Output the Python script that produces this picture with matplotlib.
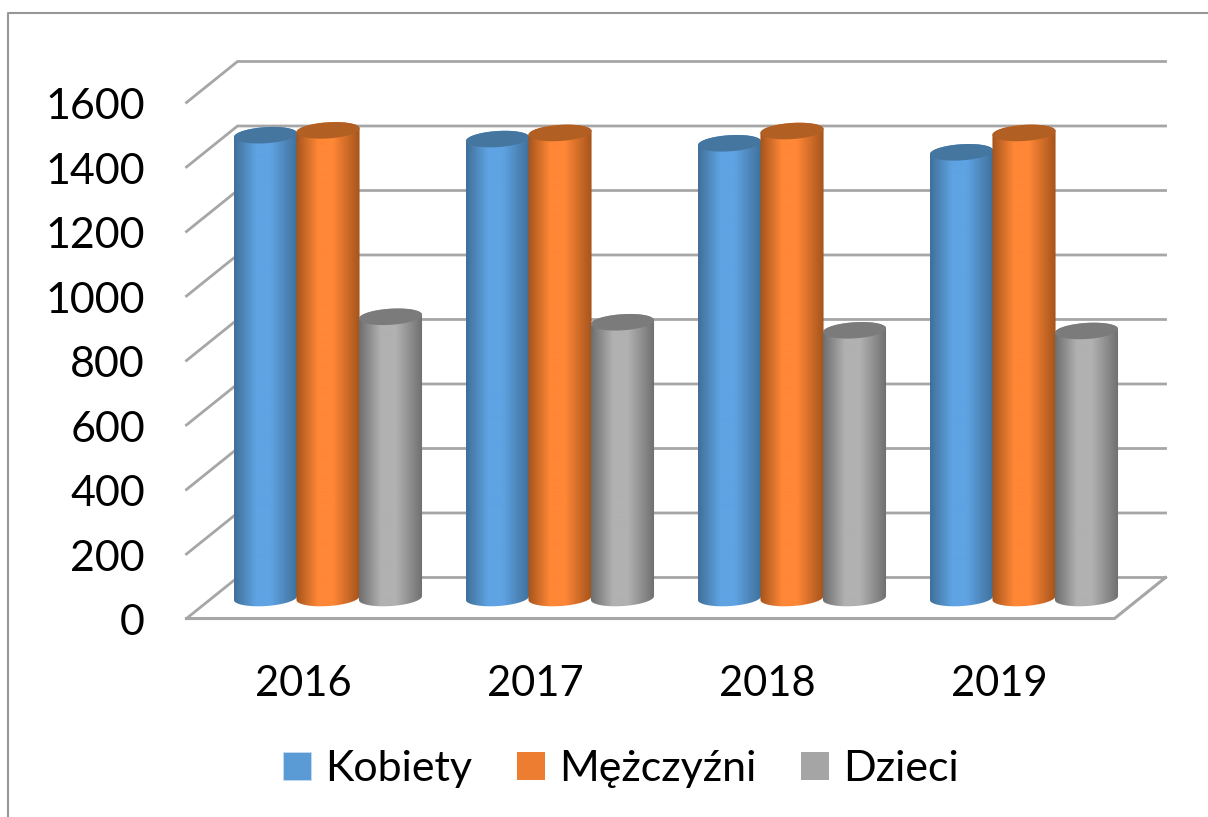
import matplotlib
matplotlib.use('Agg')
from matplotlib import pyplot as plt
from matplotlib.patches import Patch, PathPatch
from matplotlib.path import Path
from matplotlib.colors import LinearSegmentedColormap
import numpy as np

plt.rcParams['font.family'] = ['Lato', 'DejaVu Sans']

years = ['2016', '2017', '2018', '2019']
names = ['Kobiety', 'Mężczyźni', 'Dzieci']
kobiety = [1435, 1423, 1410, 1382]
mezczyzni = [1450, 1442, 1448, 1442]
dzieci = [872, 855, 830, 828]
series = [kobiety, mezczyzni, dzieci]
yticks = [0, 200, 400, 600, 800, 1000, 1200, 1400, 1600]

legend_colors = ['#5b9bd5', '#ed7d31', '#a5a5a5']
edge_colors = ['#3f6f99', '#a4541c', '#6e6e6e']
mid_colors = ['#5fa3e3', '#ff8736', '#b1b1b1']
top_colors = ['#44769f', '#b15f22', '#7b7b7b']
grid_color = '#a6a6a6'

# one category = 232 px, one value unit = 0.3225 px
fig = plt.figure(figsize=(12.08, 8.17), dpi=100)
ax = fig.add_axes([0, 0, 1, 1])
ax.axis('off')

# half of the depth of the floor, data units
dx = 0.11
dy = 63.6
left, right = -0.5, 3.5

# frame of the picture
fx = lambda p: (p - 328) / 232
fy = lambda p: (598 - p) / 0.3225
ax.plot([fx(8), fx(8), fx(1208)], [fy(817), fy(13), fy(13)], color='#979797', lw=1.5, zorder=1)

for v in yticks:
    ax.plot([left - dx, left + dx, right + dx], [v - dy, v + dy, v + dy],
            color=grid_color, lw=2, zorder=1, solid_joinstyle='miter')
ax.plot([left - dx, right - dx, right + dx], [-dy, -dy, dy], color=grid_color, lw=2.2, zorder=1)

bar_w = 0.272
t = np.linspace(0, 2 * np.pi, 120)
ry = 25
shear = 6


def cylinder(cx, value, k, z):
    half = bar_w / 2
    # outline: lower half of the base, then up the side, upper half at the top
    tb = np.linspace(np.pi, 2 * np.pi, 60)
    xs = cx + half * np.cos(tb)
    ys = ry * np.sin(tb) + shear * np.cos(tb)
    ts = np.linspace(0, np.pi, 60)
    xt = cx + half * np.cos(ts)
    yt = value + ry * np.sin(ts) + shear * np.cos(ts)
    pts = np.column_stack([np.r_[xs, xt], np.r_[ys, yt]])
    pts = np.vstack([pts, pts[0]])
    clip = PathPatch(Path(pts), facecolor='none', edgecolor='none', transform=ax.transData)
    ax.add_patch(clip)
    cmap = LinearSegmentedColormap.from_list('c', [(0, edge_colors[k]), (0.34, mid_colors[k]),
                                                   (0.58, mid_colors[k]), (1, edge_colors[k])])
    img = ax.imshow(np.linspace(0, 1, 128).reshape(1, -1), cmap=cmap, aspect='auto',
                    extent=[cx - half, cx + half, -ry - shear, value + ry + shear],
                    zorder=z, interpolation='bilinear')
    img.set_clip_path(clip)
    ax.fill(cx + half * np.cos(t), value + ry * np.sin(t) + shear * np.cos(t),
            color=top_colors[k], lw=0, zorder=z + 0.1)


for i, year in enumerate(years):
    for k, values in enumerate(series):
        cylinder(i + (k - 1) * bar_w * 0.99, values[i], k, 2 + i * 3 + k)
    ax.text(i - 0.107, fy(684), year, ha='center', va='center', fontsize=30, color='#000000', zorder=30)

# imshow resets the limits
ax.set_xlim(-328 / 232, (1208 - 328) / 232)
ax.set_ylim((598 - 817) / 0.3225, 598 / 0.3225)

for v in yticks:
    ax.text(fx(145), v - dy - 14, str(v), ha='right', va='center', fontsize=31, color='#000000', zorder=30)

handles = [Patch(facecolor=c, edgecolor='#c9def0' if j == 0 else 'none', lw=0.5)
           for j, c in enumerate(legend_colors)]
ax.legend(handles, names, loc='center', bbox_to_anchor=(621 / 1208, 1 - 769 / 817), ncol=3,
          frameon=False, fontsize=31, handlelength=0.65, handleheight=0.65,
          handletextpad=0.32, columnspacing=1.05)

fig.savefig('out.png', dpi=100)
